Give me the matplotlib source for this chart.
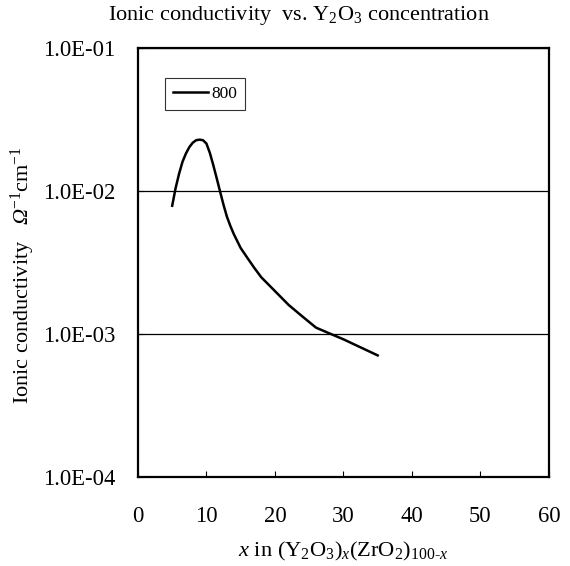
"""
Ionic conductivity vs. Y2O3 concentration
"""
import matplotlib
matplotlib.use('Agg')
import matplotlib.pyplot as plt
from matplotlib.ticker import FixedLocator, NullLocator

plt.rcParams['font.family'] = ['Liberation Serif', 'DejaVu Serif']
plt.rcParams['mathtext.fontset'] = 'custom'
plt.rcParams['mathtext.rm'] = 'Liberation Serif'
plt.rcParams['mathtext.it'] = 'Liberation Serif:italic'
# italic slot for the capital Omega (mathtext keeps Greek capitals upright in 'it')
plt.rcParams['mathtext.sf'] = 'Liberation Serif:italic'

# Data (T = 800)
x_mol = [5, 5.5, 6, 6.5, 7, 7.5, 8, 8.5, 9, 9.5, 10, 10.5, 11, 11.5, 12,
         12.5, 13, 13.5, 14, 15, 16, 17, 18, 20, 22, 24, 26, 28, 30, 35]
sigma = [0.0079, 0.0105, 0.0132, 0.0160, 0.0183, 0.0203, 0.0218, 0.0227,
         0.0229, 0.0227, 0.0215, 0.0185, 0.0152, 0.0123, 0.0099, 0.0080,
         0.0066, 0.0057, 0.0050, 0.0040, 0.0034, 0.0029, 0.0025, 0.0020,
         0.0016, 0.00133, 0.00111, 0.00101, 0.00092, 0.00071]
series_label = '800'
x_ticks = [0, 10, 20, 30, 40, 50, 60]
y_ticks = [1e-4, 1e-3, 1e-2, 1e-1]
y_ticklabels = ['1.0E-04', '1.0E-03', '1.0E-02', '1.0E-01']

fig = plt.figure(figsize=(5.7, 5.66), dpi=100)
ax = fig.add_axes([0.242, 0.157, 0.721, 0.758])

ax.plot(x_mol, sigma, color='black', linewidth=1.8, label=series_label,
        solid_joinstyle='round')

ax.set_yscale('log')
ax.set_xlim(0, 60)
ax.set_ylim(1e-4, 1e-1)
ax.xaxis.set_major_locator(FixedLocator(x_ticks))
ax.yaxis.set_major_locator(FixedLocator(y_ticks))
ax.yaxis.set_minor_locator(NullLocator())
ax.set_yticklabels(y_ticklabels)

ax.tick_params(axis='both', direction='in', labelsize=16.3, length=4, width=0.8)
ax.tick_params(axis='x', pad=21)
ax.tick_params(axis='y', pad=16)
ax.grid(axis='y', which='major', color='black', linewidth=0.9)
for sp in ax.spines.values():
    sp.set_linewidth(1.6)

ax.set_xlabel(r'$\mathit{x}$ in (Y$_2$O$_3$)$_{\mathit{x}}$(ZrO$_2$)$_{100\text{-}\mathit{x}}$',
              fontsize=16.2, labelpad=9)
ax.set_ylabel(r'Ionic conductivity   $\mathsf{Ω}^{-1}$cm$^{-1}$', fontsize=16)
ax.yaxis.set_label_coords(-0.245, 0.471)
fig.text(0.525, 0.973, r'Ionic conductivity  vs. Y$_2$O$_3$ concentration',
         ha='center', va='center', fontsize=16)

leg = ax.legend(loc='upper left', bbox_to_anchor=(0.066, 0.93), fontsize=12.5,
                frameon=True, fancybox=False, handlelength=2.0, handletextpad=0.2,
                borderpad=0.45, borderaxespad=0)
leg.get_frame().set_edgecolor('black')
leg.get_frame().set_linewidth(0.8)

plt.savefig('out.png', dpi=100)
plt.close(fig)
